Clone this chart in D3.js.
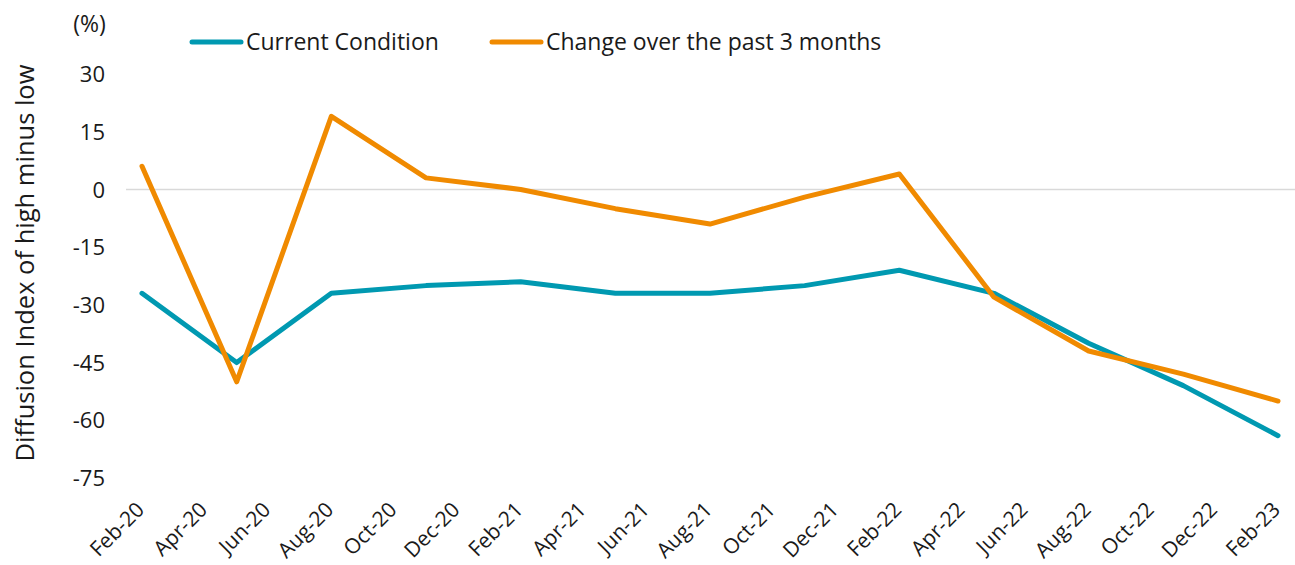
<!DOCTYPE html>
<html><head><meta charset="utf-8">
<script src="https://cdn.jsdelivr.net/npm/d3@7"></script>
<style>body{margin:0;background:#fff}svg{display:block}text{font-family:"Open Sans","Noto Sans",sans-serif;fill:#1a1a1a}</style>
</head><body><svg id="c" width="1295" height="565"></svg>
<script>
const tickLabels = ["Feb-20","Apr-20","Jun-20","Aug-20","Oct-20","Dec-20","Feb-21","Apr-21","Jun-21","Aug-21","Oct-21","Dec-21","Feb-22","Apr-22","Jun-22","Aug-22","Oct-22","Dec-22","Feb-23"];
const dataMonths = ["Feb-20","May-20","Aug-20","Nov-20","Feb-21","May-21","Aug-21","Nov-21","Feb-22","May-22","Aug-22","Nov-22","Feb-23"];
const currentCondition = [-27,-45,-27,-25,-24,-27,-27,-25,-21,-27,-40,-51,-64];
const changePast3m = [6,-50,19,3,0,-5,-9,-2,4,-28,-42,-48,-55];
const yTicks = [30,15,0,-15,-30,-45,-60,-75];

const svg = d3.select("#c");
const x = d3.scaleLinear().domain([0,36]).range([142,1278]);
const y = d3.scaleLinear().domain([-75,30]).range([478,74]);
const idx = i => i*3;

svg.append("line").attr("x1",126).attr("x2",1295).attr("y1",y(0)).attr("y2",y(0))
  .attr("stroke","#d9d9d9").attr("stroke-width",1.5);

const ya = svg.append("g").attr("transform","translate(105,0)")
  .call(d3.axisLeft(y).tickValues(yTicks).tickSize(0).tickPadding(0).tickFormat(d=>String(d)));
ya.select(".domain").remove();
ya.selectAll("text").style("font-size","22px").attr("fill","#1a1a1a").attr("dy","0.35em");

const xa = svg.append("g").attr("transform","translate(0,492)")
  .call(d3.axisBottom(x).tickValues(d3.range(0,37,2)).tickSize(0).tickFormat((d,i)=>tickLabels[i]));
xa.select(".domain").remove();
xa.selectAll("text").style("font-size","21px").attr("fill","#1a1a1a")
  .attr("text-anchor","end").attr("dy","0").attr("y",0)
  .attr("transform","translate(3,19) rotate(-45)");

const line = d3.line().x((d,i)=>x(idx(i))).y(d=>y(d));
svg.append("path").datum(currentCondition).attr("d",line).attr("fill","none")
  .attr("stroke","#0099b1").attr("stroke-width",5).attr("stroke-linejoin","round").attr("stroke-linecap","round");
svg.append("path").datum(changePast3m).attr("d",line).attr("fill","none")
  .attr("stroke","#f08a00").attr("stroke-width",5).attr("stroke-linejoin","round").attr("stroke-linecap","round");

svg.append("text").attr("transform","translate(25,263) rotate(-90)").attr("text-anchor","middle")
  .attr("dy","0.35em").style("font-size","25.5px").text("Diffusion Index of high minus low");
svg.append("text").attr("x",89.5).attr("y",32).attr("text-anchor","middle").style("font-size","23px").text("(%)");

const leg = [["Current Condition","#0099b1",190],["Change over the past 3 months","#f08a00",490]];
leg.forEach(([t,c,lx])=>{
  svg.append("line").attr("x1",lx+2).attr("x2",lx+51).attr("y1",42).attr("y2",42)
    .attr("stroke",c).attr("stroke-width",5).attr("stroke-linecap","round");
  svg.append("text").attr("x",lx+56).attr("y",42).attr("dy","0.35em").style("font-size",'23px').text(t);
});
</script></body></html>
